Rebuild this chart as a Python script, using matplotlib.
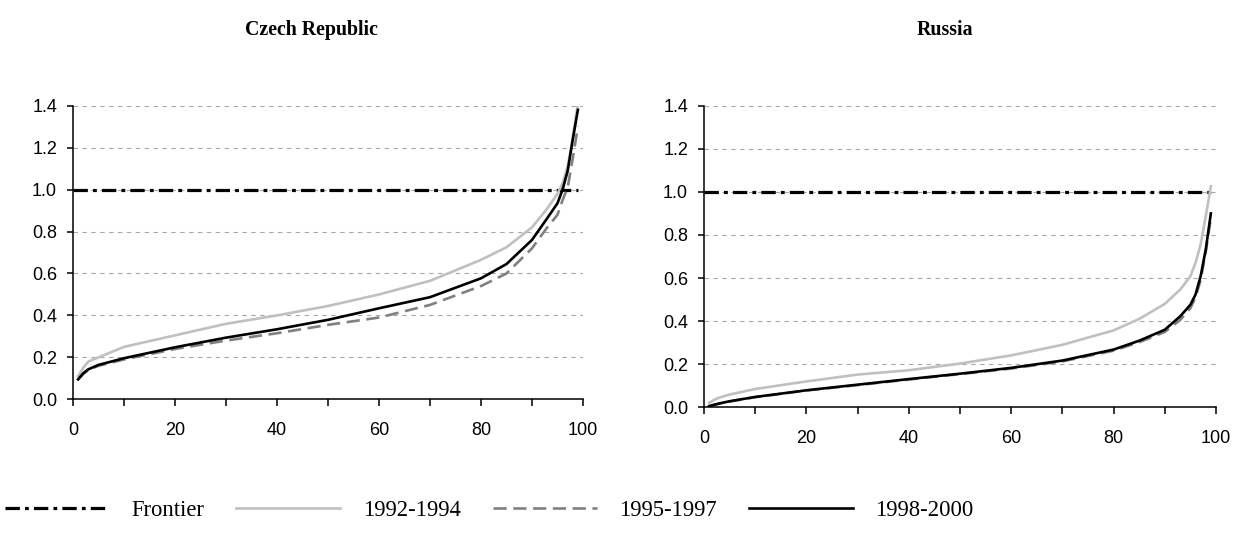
import matplotlib
matplotlib.use('Agg')
import matplotlib.pyplot as plt
from matplotlib.ticker import MultipleLocator, FormatStrFormatter

# -------------------------------
# DATA
# -------------------------------

PCT = [1, 2, 3, 5, 10, 20, 30, 40, 50, 60, 70, 80, 85, 90, 93, 95, 96, 97, 98, 99]

CZ_9294 = [0.11, 0.15, 0.18, 0.20, 0.25, 0.305, 0.36, 0.40, 0.445, 0.50,
           0.565, 0.665, 0.725, 0.82, 0.91, 0.98, 1.03, 1.11, 1.25, 1.41]
CZ_9597 = [0.095, 0.12, 0.14, 0.16, 0.19, 0.24, 0.28, 0.315, 0.355, 0.39,
           0.45, 0.54, 0.60, 0.72, 0.82, 0.88, 0.95, 1.01, 1.15, 1.30]
CZ_9800 = [0.095, 0.124, 0.143, 0.164, 0.196, 0.248, 0.294, 0.334, 0.379, 0.434,
           0.487, 0.577, 0.645, 0.76, 0.864, 0.935, 1.0, 1.09, 1.24, 1.38]

RU_9294 = [0.02, 0.035, 0.045, 0.059, 0.085, 0.12, 0.152, 0.172, 0.203, 0.241,
           0.29, 0.357, 0.41, 0.48, 0.546, 0.608, 0.67, 0.755, 0.886, 1.026]
RU_9597 = [0.005, 0.011, 0.017, 0.027, 0.047, 0.078, 0.103, 0.129, 0.154, 0.18,
           0.213, 0.263, 0.302, 0.35, 0.405, 0.46, 0.51, 0.59, 0.72, 0.88]
RU_9800 = [0.005, 0.012, 0.018, 0.028, 0.048, 0.079, 0.105, 0.131, 0.156, 0.183,
           0.217, 0.268, 0.309, 0.36, 0.422, 0.476, 0.523, 0.608, 0.732, 0.90]

FRONTIER_X = [0, 99]
FRONTIER_Y = [1.0, 1.0]

TITLES = ['Czech Republic', 'Russia']
LABELS = ['Frontier', '1992-1994', '1995-1997', '1998-2000']

# -------------------------------
# FIGURE
# -------------------------------

fig = plt.figure(figsize=(12.37, 5.36), dpi=100)
ax_cz = fig.add_axes([0.0590, 0.2550, 0.4123, 0.5478])
ax_ru = fig.add_axes([0.5691, 0.2401, 0.4139, 0.5627])

panels = [
    (ax_cz, CZ_9294, CZ_9597, CZ_9800),
    (ax_ru, RU_9294, RU_9597, RU_9800),
]

handles = None
for ax, s1, s2, s3 in panels:
    ax.set_xlim(0, 100)
    ax.set_ylim(0, 1.4)
    ax.yaxis.grid(True, color='#a8a8a8', linestyle=(0, (4, 4)), linewidth=0.8)
    ax.set_axisbelow(True)

    h0, = ax.plot(FRONTIER_X, FRONTIER_Y, color='black', linewidth=2.3,
                  dashes=(4.5, 1.6, 1.2, 1.6), label=LABELS[0])
    h1, = ax.plot(PCT, s1, color='#c0c0c0', linewidth=1.9, label=LABELS[1])
    h2, = ax.plot(PCT, s2, color='#808080', linewidth=1.9,
                  dashes=(5, 2.5), label=LABELS[2])
    h3, = ax.plot(PCT, s3, color='black', linewidth=1.9, label=LABELS[3])
    if handles is None:
        handles = [h0, h1, h2, h3]

    for side in ['top', 'right']:
        ax.spines[side].set_visible(False)
    for side in ['left', 'bottom']:
        ax.spines[side].set_linewidth(1.1)

    ax.xaxis.set_major_locator(MultipleLocator(20))
    ax.xaxis.set_minor_locator(MultipleLocator(10))
    ax.yaxis.set_major_locator(MultipleLocator(0.2))
    ax.yaxis.set_major_formatter(FormatStrFormatter('%.1f'))
    ax.tick_params(axis='x', which='both', direction='out', length=5, width=1.1)
    ax.tick_params(axis='x', which='major', pad=11)
    ax.tick_params(axis='y', direction='out', length=4.5, width=1.1, pad=7)
    for lab in ax.get_xticklabels() + ax.get_yticklabels():
        lab.set_fontfamily('Liberation Sans')
        lab.set_fontsize(13)

fig.text(0.252, 0.944, TITLES[0], ha='center', va='center',
         fontfamily='Liberation Serif', fontweight='bold', fontsize=14.3)
fig.text(0.764, 0.944, TITLES[1], ha='center', va='center',
         fontfamily='Liberation Serif', fontweight='bold', fontsize=14.3)

fig.legend(handles, LABELS, loc='center left', bbox_to_anchor=(0.004, 0.0485),
           ncol=4, frameon=False, borderpad=0, borderaxespad=0,
           handlelength=4.6, handletextpad=1.0, columnspacing=1.4,
           prop={'family': 'Liberation Serif', 'size': 16.3})

fig.savefig('out.png', dpi=100)
